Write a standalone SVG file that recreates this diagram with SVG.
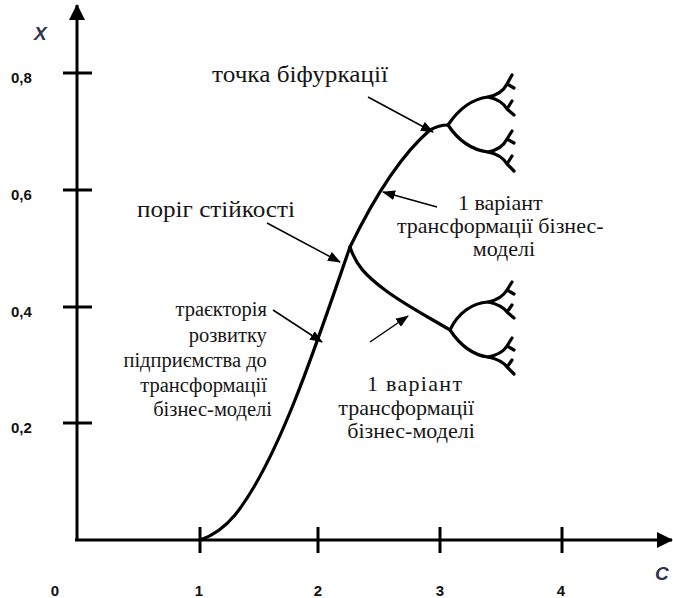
<svg xmlns="http://www.w3.org/2000/svg" width="673" height="598" viewBox="0 0 673 598">
<style>
.ax{stroke:#000;stroke-width:3;fill:none}
.tk{stroke:#000;stroke-width:3}
.cv{stroke:#000;stroke-width:3.2;fill:none;stroke-linecap:round;stroke-linejoin:round}
.ar{stroke:#000;stroke-width:1.5;fill:none}
.lab{font-family:'Liberation Serif','Times New Roman',serif;font-size:22px;fill:#151515}
.lab2{font-family:'Liberation Serif','Times New Roman',serif;font-size:20.5px;fill:#151515}
.num{font-family:'Liberation Sans',Arial,sans-serif;font-weight:bold;font-size:15px;fill:#111}
.var{font-family:'Liberation Sans',Arial,sans-serif;font-style:italic;font-weight:bold;font-size:19px;fill:#2d3550}
</style>
<defs>
<marker id="ah" markerUnits="userSpaceOnUse" markerWidth="13" markerHeight="10" refX="12" refY="5" orient="auto">
<path d="M0,0 L13,5 L0,10 z" fill="#000"/>
</marker>
<marker id="axh" markerUnits="userSpaceOnUse" markerWidth="16" markerHeight="16" refX="15" refY="8" orient="auto">
<path d="M0,0 L16,8 L0,16 z" fill="#000"/>
</marker>
</defs>
<g id="axes">
<line class="ax" x1="77" y1="541" x2="77" y2="5" marker-end="url(#axh)"/>
<line class="ax" x1="75" y1="540" x2="672" y2="540" marker-end="url(#axh)"/>
<line class="tk" x1="63" y1="73" x2="92" y2="73"/>
<line class="tk" x1="63" y1="190" x2="92" y2="190"/>
<line class="tk" x1="63" y1="307" x2="92" y2="307"/>
<line class="tk" x1="63" y1="423" x2="92" y2="423"/>
<line class="tk" x1="200" y1="527" x2="200" y2="553"/>
<line class="tk" x1="318" y1="527" x2="318" y2="553"/>
<line class="tk" x1="440" y1="527" x2="440" y2="553"/>
<line class="tk" x1="562" y1="527" x2="562" y2="553"/>
<text class="var" x="34" y="40">X</text>
<text class="var" x="655" y="580">C</text>
<text class="num" x="11" y="83">0,8</text>
<text class="num" x="11" y="200">0,6</text>
<text class="num" x="11" y="317">0,4</text>
<text class="num" x="11" y="433">0,2</text>
<text class="num" x="55" y="596" text-anchor="middle">0</text>
<text class="num" x="199" y="596" text-anchor="middle">1</text>
<text class="num" x="318" y="596" text-anchor="middle">2</text>
<text class="num" x="440" y="596" text-anchor="middle">3</text>
<text class="num" x="561" y="596" text-anchor="middle">4</text>
</g>
<g id="trajectory">
<path class="cv" d="M200,540 C215,535 225,527 235,515 C255,490 275,450 295,400 C315,350 335,290 350,247"/>
<path class="cv" d="M350,247 C368,210 395,160 430,130 C437,126 442,125 448,125"/>
<path class="cv" d="M350,247 C356,265 365,275 385,290 C405,305 430,318 450,330"/>
</g>
<g id="tree-upper">
<path class="cv" d="M448,125 C458,110 472,99 488,97 M448,125 C458,140 472,150 488,152"/>
<path class="cv" d="M488,97 C498,95 504,90 507,84 L512,75 M507,84 L514,88 M488,97 C498,99 504,104 507,109 L514,115 M507,109 L512,101"/>
<path class="cv" d="M488,152 C498,150 504,145 507,139 L512,131 M507,139 L514,143 M488,152 C498,154 504,159 507,164 L514,171 M507,164 L512,156"/>
</g>
<g id="tree-lower">
<path class="cv" d="M450,330 C458,313 472,303 488,302 M450,330 C460,345 472,355 488,357"/>
<path class="cv" d="M488,302 C498,300 504,295 507,290 L512,282 M507,290 L514,294 M488,302 C498,304 504,308 507,312 L514,318 M507,312 L512,305"/>
<path class="cv" d="M488,357 C498,355 504,351 507,346 L512,338 M507,346 L514,350 M488,357 C498,359 504,363 507,367 L514,374 M507,367 L512,360"/>
</g>
<g id="connectors">
<line class="ar" x1="368" y1="97" x2="433" y2="132" marker-end="url(#ah)"/>
<line class="ar" x1="267" y1="223" x2="340" y2="262" marker-end="url(#ah)"/>
<line class="ar" x1="273" y1="310" x2="322" y2="342" marker-end="url(#ah)"/>
<line class="ar" x1="437" y1="207" x2="383" y2="192" marker-end="url(#ah)"/>
<line class="ar" x1="370" y1="342" x2="408" y2="316" marker-end="url(#ah)"/>
</g>
<g id="label-bifurcation"><text class="lab" x="212" y="82" style="font-size:24px" textLength="176" lengthAdjust="spacingAndGlyphs">точка біфуркації</text></g>
<g id="label-threshold"><text class="lab" x="137" y="217" style="font-size:24px" textLength="158" lengthAdjust="spacingAndGlyphs">поріг стійкості</text></g>
<g id="label-trajectory">
<text class="lab2" text-anchor="end">
<tspan x="272" y="316">траєкторія</tspan>
<tspan x="272" y="342">розвитку</tspan>
<tspan x="272" y="367">підприємства до</tspan>
<tspan x="272" y="392">трансформації</tspan>
<tspan x="272" y="416">бізнес-моделі</tspan>
</text>
</g>
<g id="label-variant-upper">
<text class="lab" text-anchor="middle">
<tspan x="503" y="210">1 варіант</tspan>
<tspan x="503" y="233">трансформації бізнес-</tspan>
<tspan x="504" y="256">моделі</tspan>
</text>
</g>
<g id="label-variant-lower">
<text class="lab" x="367" y="391" textLength="95" lengthAdjust="spacing">1 варіант</text>
<text class="lab" text-anchor="middle">
<tspan x="409" y="415">трансформації</tspan>
<tspan x="411" y="438">бізнес-моделі</tspan>
</text>
</g>
</svg>
